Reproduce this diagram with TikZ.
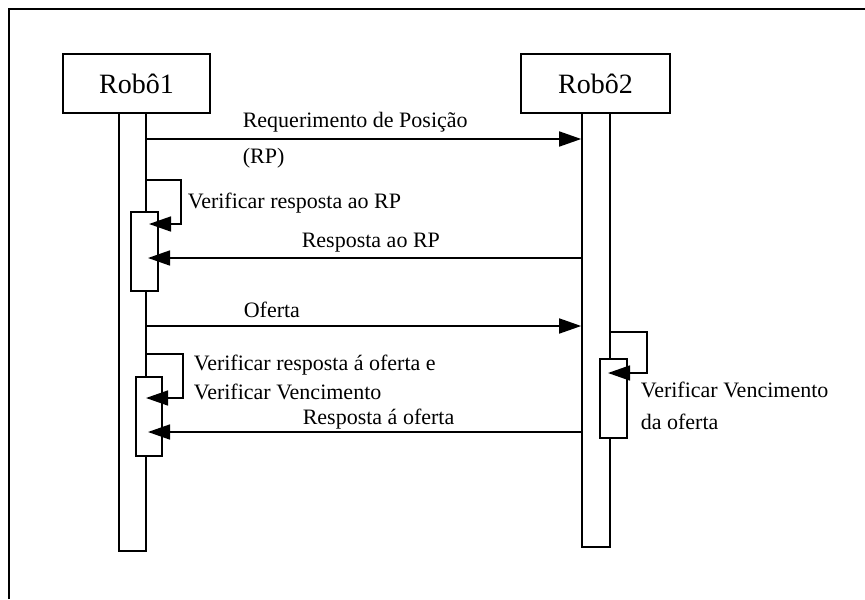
\documentclass[tikz,border=0pt]{standalone}
\usepackage{fontspec}
\setmainfont{Liberation Serif}
\usetikzlibrary{arrows.meta}
\begin{document}
\begin{tikzpicture}[x=0.5pt,y=-0.5pt,>={Triangle[length=11pt,width=7.5pt]},line width=0.8pt,
	font=\fontsize{11}{13}\selectfont,
	ator/.style={draw,inner sep=0pt,minimum width=#1,minimum height=29.5pt,font=\fontsize{14}{16}\selectfont},
	vida/.style={draw,fill=white,inner sep=0pt,minimum width=13.5pt,minimum height=#1},
	rotulo/.style={anchor=west,inner sep=0pt}]
	\useasboundingbox (0,0) rectangle (865,599);
	\path (9,599) coordinate (F1)
	(9,9) coordinate (F2)
	(865,9) coordinate (F3)
	;
	\draw[line width=1pt] (F1)--(F2)--(F3);

	% objetos e linhas de vida
	\node[ator=73.5pt] (R1) at (136.5,83.5) {Robô1};
	\node[ator=74.5pt] (R2) at (595.5,83.5) {Robô2};
	\node[vida=219pt] (V1) at (132.5,332) {};
	\node[vida=217pt,minimum width=14pt] (V2) at (596,330) {};
	\node[vida=39.5pt] (A1) at (144.5,251.5) {};
	\node[vida=39.5pt,minimum width=13pt] (A2) at (149,416.5) {};
	\node[vida=39.5pt] (A3) at (613.5,398.5) {};

	\path (0,139) coordinate (m1)
	(0,258) coordinate (m2)
	(0,326) coordinate (m3)
	(0,432) coordinate (m4)
	(181,180) coordinate (L1a) (181,224) coordinate (L1b) (149,224) coordinate (L1c)
	(183,354) coordinate (L2a) (183,398) coordinate (L2b) (146,398) coordinate (L2c)
	(647,332) coordinate (L3a) (647,373) coordinate (L3b) (608,373) coordinate (L3c)
	;

	% mensagens
	\draw[->] (V1.east|-m1)--(V2.west|-m1);
	\draw[->] (V2.west|-m2)--(148,258);
	\draw[->] (V1.east|-m3)--(V2.west|-m3);
	\draw[->] (V2.west|-m4)--(148,432);
	\draw[->] (V1.east|-L1a)--(L1a)--(L1b)--(L1c);
	\draw[->] (V1.east|-L2a)--(L2a)--(L2b)--(L2c);
	\draw[->] (V2.east|-L3a)--(L3a)--(L3b)--(L3c);

	\node[rotulo] (t1) at (242,122) {Requerimento de Posição};
	\node[rotulo] (t2) at (242,158) {(RP)};
	\node[rotulo] (t3) at (187,203) {Verificar resposta ao RP};
	\node[rotulo] (t4) at (301,243) {Resposta ao RP};
	\node[rotulo] (t5) at (243,310) {Oferta};
	\node[rotulo] (t6) at (193,365) {Verificar resposta á oferta e};
	\node[rotulo] (t7) at (193,392) {Verificar Vencimento};
	\node[rotulo] (t8) at (302,419) {Resposta á oferta};
	\node[rotulo] (t9) at (640,390) {Verificar Vencimento};
	\node[rotulo] (t10) at (640,422) {da oferta};
\end{tikzpicture}
\end{document}
